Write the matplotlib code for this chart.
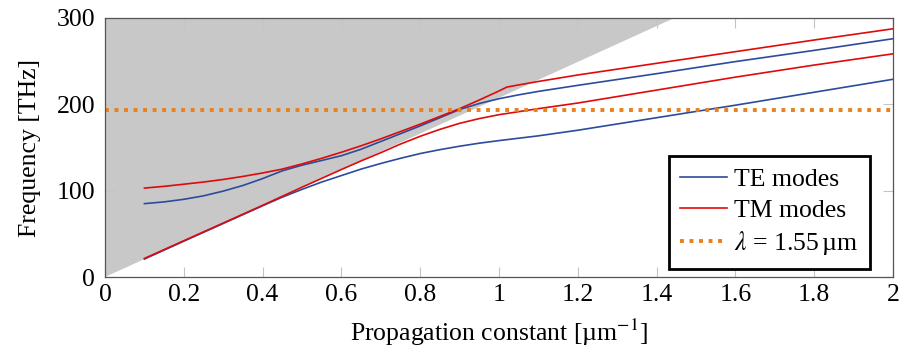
import matplotlib
matplotlib.use("Agg")
import matplotlib.pyplot as plt

plt.rcParams['font.family'] = ['Liberation Serif', 'DejaVu Serif']
plt.rcParams['mathtext.fontset'] = 'stix'

# light line of the silica cladding: f = c*beta/n
C_THZ_UM = 299.79
N_CLAD = 1.444
WL_UM = 1.55

# TE modes (blue)
te1_b = [0.1, 0.15, 0.2, 0.25, 0.3, 0.35, 0.4, 0.45, 0.5, 0.55, 0.6, 0.65, 0.7, 0.75,
         0.8, 0.85, 0.9, 0.95, 1.0, 1.05, 1.1, 1.2, 1.4, 1.6, 1.8, 2.0]
te1_f = [85, 87, 90, 94, 99.5, 106, 114, 123, 129.5, 135, 140.5, 148, 157, 166,
         175, 184.5, 194, 201, 206.5, 211, 215, 222, 235.5, 249.5, 262.5, 276]
te2_b = [0.1, 0.2, 0.3, 0.4, 0.45, 0.5, 0.55, 0.6, 0.65, 0.7, 0.75, 0.8, 0.85, 0.9,
         0.95, 1.0, 1.1, 1.2, 1.4, 1.6, 1.8, 2.0]
te2_f = [20.8, 41.5, 62, 82.5, 92.5, 101.5, 110, 117.5, 125, 131.5, 137.5, 143, 147.5, 151.5,
         155, 158, 163.5, 170, 184.5, 199, 214, 229]

# TM modes (red)
tm1_b = [0.1, 0.15, 0.2, 0.25, 0.3, 0.35, 0.4, 0.45, 0.5, 0.55, 0.6, 0.65, 0.7, 0.75,
         0.8, 0.85, 0.9, 0.95, 1.0, 1.02, 1.05, 1.1, 1.2, 1.4, 1.6, 1.8, 2.0]
tm1_f = [103, 105, 107.5, 110, 113, 116.5, 120.5, 125, 131, 137.5, 144.5, 152, 160, 168.5,
         177, 186, 195, 205, 215.5, 220, 222.5, 226.5, 234, 247.5, 261, 274.5, 287.5]
tm2_b = [0.1, 0.2, 0.3, 0.4, 0.5, 0.6, 0.65, 0.7, 0.75, 0.8, 0.85, 0.9, 0.95, 1.0,
         1.05, 1.1, 1.2, 1.4, 1.6, 1.8, 2.0]
tm2_f = [21.5, 42, 62.5, 83, 104, 124.5, 134.5, 144, 154, 163, 171, 178, 183.5, 188,
         191.5, 195, 201.5, 216.5, 231.5, 245.5, 258.5]

xticks = [0, 0.2, 0.4, 0.6, 0.8, 1, 1.2, 1.4, 1.6, 1.8, 2]
xlabels = ['0', '0.2', '0.4', '0.6', '0.8', '1', '1.2', '1.4', '1.6', '1.8', '2']
yticks = [0, 100, 200, 300]

BLUE = '#2b4c9c'
RED = '#e00a0a'
ORANGE = '#e8801e'
FS = 18.5

fig = plt.figure(figsize=(9.03, 3.55), dpi=100)
ax = fig.add_axes([0.1163, 0.2197, 0.8726, 0.7296])

# region above the light line
ymax = 300
bmax = ymax * N_CLAD / C_THZ_UM
ax.fill([0, bmax, 0], [0, ymax, ymax], color='#c8c8c8', lw=0, zorder=1)

ax.plot(te1_b, te1_f, color=BLUE, lw=1.2, zorder=3, label='TE modes')
ax.plot(te2_b, te2_f, color=BLUE, lw=1.2, zorder=3)
ax.plot(tm1_b, tm1_f, color=RED, lw=1.2, zorder=4, label='TM modes')
ax.plot(tm2_b, tm2_f, color=RED, lw=1.2, zorder=4)
ax.axhline(C_THZ_UM / WL_UM, color=ORANGE, lw=2.8, ls=(0, (1, 1.45)),
           dash_capstyle='butt', zorder=5, label=r'$\lambda$ = 1.55$\,$µm')

ax.set_xlim(0, 2)
ax.set_ylim(0, 300)
ax.set_xticks(xticks)
ax.set_xticklabels(xlabels)
ax.set_yticks(yticks)
ax.tick_params(direction='in', length=7, width=0.8, color='#c4c4c4',
               top=True, right=True, labelsize=FS)
ax.tick_params(axis='x', pad=5)
ax.tick_params(axis='y', pad=7)
for sp in ax.spines.values():
    sp.set_color('#555555')
    sp.set_linewidth(0.9)
    sp.set_zorder(6)

ax.set_xlabel(r'Propagation constant [µm$^{-1}$]', fontsize=FS, labelpad=8)
ax.set_ylabel('Frequency [THz]', fontsize=FS, labelpad=11)

leg = ax.legend(loc='lower right', bbox_to_anchor=(0.971, 0.031), fontsize=FS,
                fancybox=False, framealpha=1, edgecolor='black',
                handlelength=1.8, handletextpad=0.3, labelspacing=0.3,
                borderpad=0.45, borderaxespad=0)
leg.get_frame().set_linewidth(2)
leg.set_zorder(7)

fig.savefig('out.png', dpi=100)
